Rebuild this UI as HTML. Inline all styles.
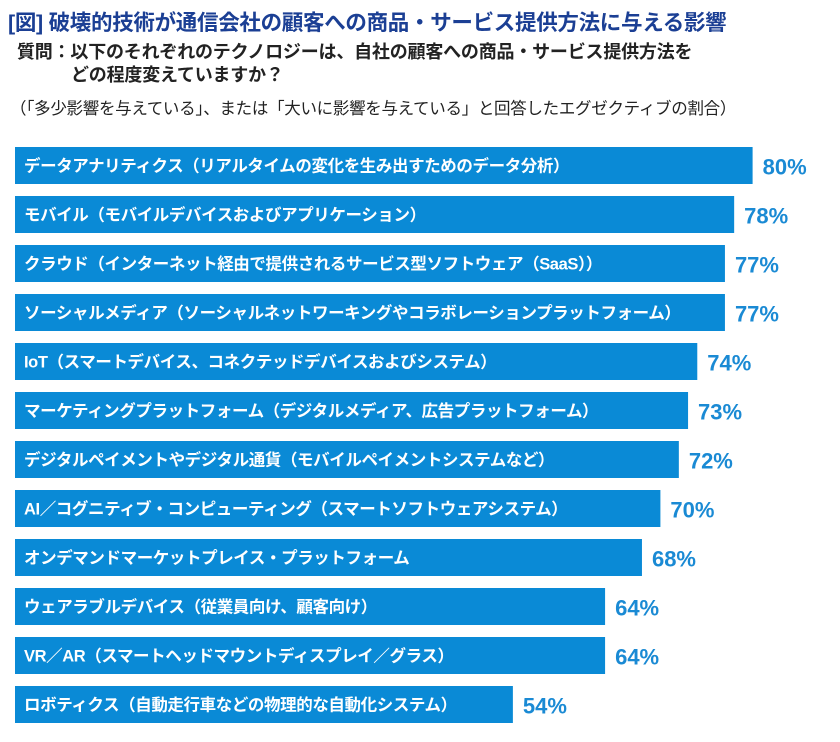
<!DOCTYPE html>
<html><head><meta charset="utf-8">
<style>
body{margin:0;width:840px;height:742px;background:#fff;font-family:"Liberation Sans","Noto Sans CJK JP",sans-serif;overflow:hidden;position:relative}
.t{position:absolute;white-space:nowrap}
</style></head><body>
<div class="t" style="left:8px;top:6px;font-size:21.5px;font-weight:bold;color:#1b3f94;letter-spacing:-0.3px">[図] 破壊的技術が通信会社の顧客への商品・サービス提供方法に与える影響</div>
<div class="t" style="left:17px;top:41px;font-size:18px;font-weight:bold;color:#222;line-height:23px;letter-spacing:-0.2px">質問：以下のそれぞれのテクノロジーは、自社の顧客への商品・サービス提供方法を<br><span style="padding-left:54px">どの程度変えていますか？</span></div>
<div class="t" style="left:10px;top:95px;font-size:16.5px;color:#222;letter-spacing:-0.3px">（「多少影響を与えている」、または「大いに影響を与えている」と回答したエグゼクティブの割合）</div>
<svg id="c" width="840" height="742" style="position:absolute;left:0;top:0"></svg>
<script>
const categories=["データアナリティクス（リアルタイムの変化を生み出すためのデータ分析）","モバイル（モバイルデバイスおよびアプリケーション）","クラウド（インターネット経由で提供されるサービス型ソフトウェア（SaaS））","ソーシャルメディア（ソーシャルネットワーキングやコラボレーションプラットフォーム）","IoT（スマートデバイス、コネクテッドデバイスおよびシステム）","マーケティングプラットフォーム（デジタルメディア、広告プラットフォーム）","デジタルペイメントやデジタル通貨（モバイルペイメントシステムなど）","AI／コグニティブ・コンピューティング（スマートソフトウェアシステム）","オンデマンドマーケットプレイス・プラットフォーム","ウェアラブルデバイス（従業員向け、顧客向け）","VR／AR（スマートヘッドマウントディスプレイ／グラス）","ロボティクス（自動走行車などの物理的な自動化システム）"];
const values=[80,78,77,77,74,73,72,70,68,64,64,54];
const svg=document.getElementById('c');const NS='http://www.w3.org/2000/svg';
const x=v=>15+v*9.22;const y=i=>147+i*49;const bh=37;
values.forEach((v,i)=>{
 const r=document.createElementNS(NS,'rect');
 
 
 r.setAttribute('x',15);r.setAttribute('y',y(i));r.setAttribute('width',x(v)-15);r.setAttribute('height',bh);r.setAttribute('fill','#0a8ad6');svg.appendChild(r);
 const t=document.createElementNS(NS,'text');
 
 
 t.setAttribute('x',24);t.setAttribute('y',y(i)+bh/2+6);t.setAttribute('fill','#fff');t.setAttribute('font-size','16.5');t.setAttribute('font-weight','bold');t.setAttribute('letter-spacing','-0.4');t.textContent=categories[i];svg.appendChild(t);
 const p=document.createElementNS(NS,'text');
 
 
 p.setAttribute('x',x(v)+10);p.setAttribute('y',y(i)+bh/2+9);p.setAttribute('fill','#1a8ad4');p.setAttribute('font-size','22');p.setAttribute('font-weight','bold');p.textContent=v+'%';svg.appendChild(p);
});
</script>
</body></html>
